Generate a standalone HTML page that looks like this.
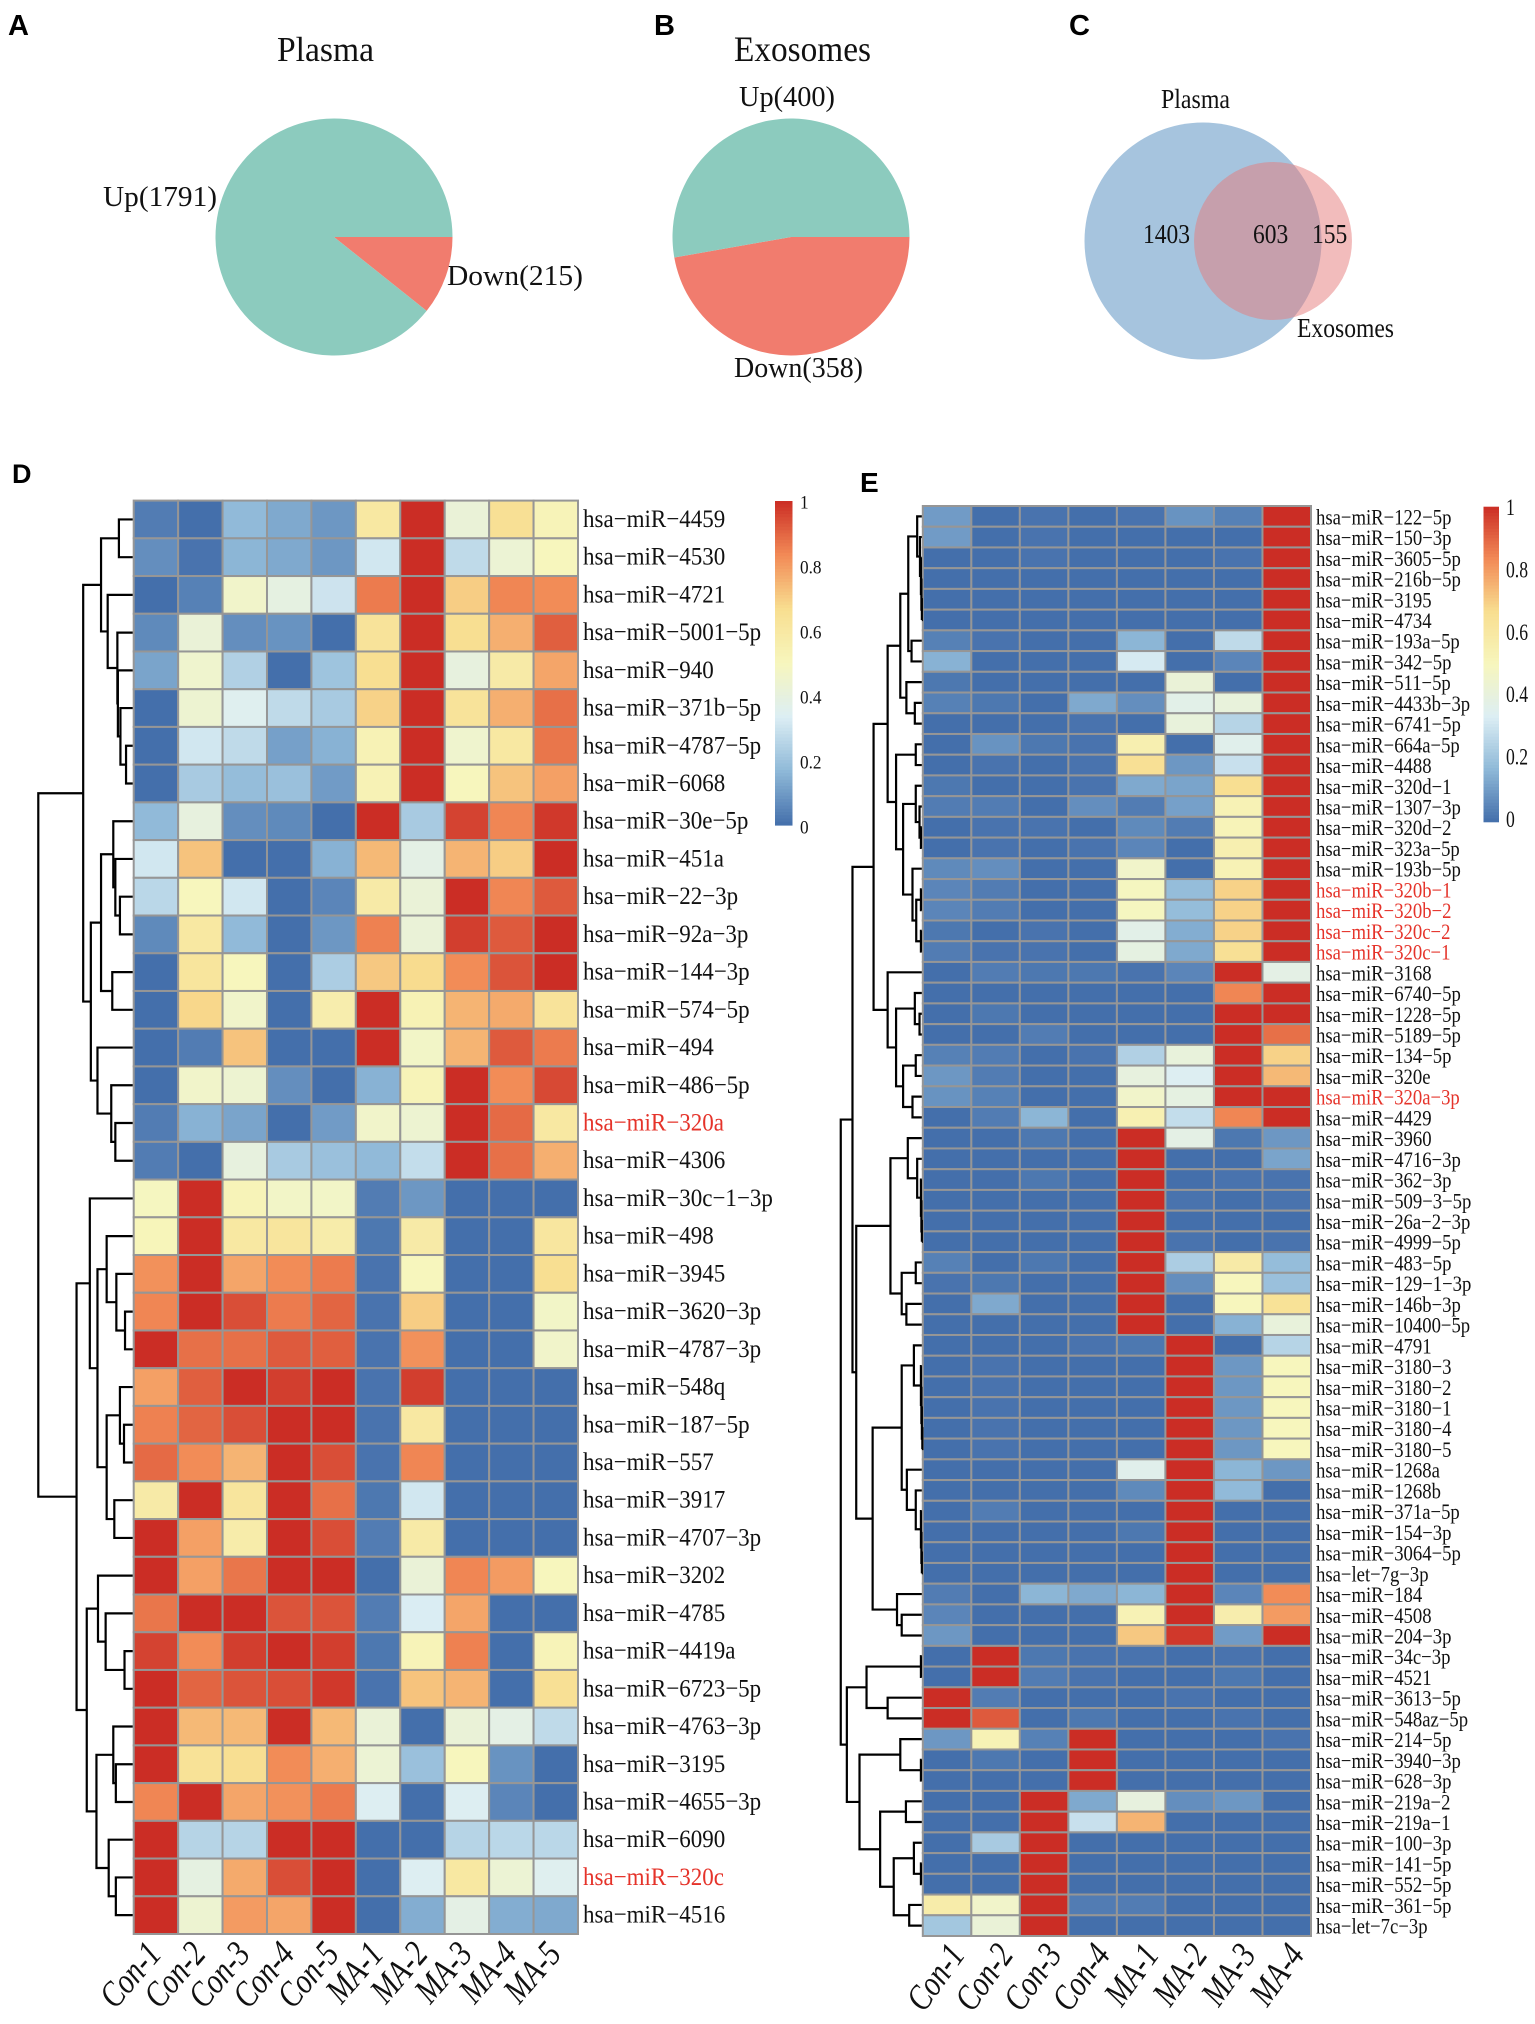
<!DOCTYPE html>
<html lang="en">
<head>
<meta charset="utf-8">
<title>miRNA expression figure</title>
<style>
html,body{margin:0;padding:0;background:#fff;}
svg{display:block;}
text{font-family:"Liberation Serif",serif;fill:#111;}
.letter{font-family:"Liberation Sans",sans-serif;font-weight:bold;fill:#000;}
</style>
</head>
<body>
<svg id="fig" xmlns="http://www.w3.org/2000/svg" width="1535" height="2024" viewBox="0 0 1535 2024">
<rect width="1535" height="2024" fill="#fff"/>
<text class="letter" x="8" y="35" font-size="29">A</text>
<text class="letter" x="654" y="35" font-size="29">B</text>
<text class="letter" x="1069" y="35" font-size="29">C</text>
<text class="letter" x="12" y="483" font-size="27">D</text>
<text class="letter" x="860" y="492" font-size="28">E</text>
<text x="277" y="61" font-size="35" textLength="97" lengthAdjust="spacingAndGlyphs">Plasma</text>
<text x="734" y="61" font-size="36" textLength="137" lengthAdjust="spacingAndGlyphs">Exosomes</text>
<text x="103" y="206" font-size="29" textLength="114" lengthAdjust="spacingAndGlyphs">Up(1791)</text>
<text x="447" y="285" font-size="29" textLength="136" lengthAdjust="spacingAndGlyphs">Down(215)</text>
<text x="739" y="106" font-size="29" textLength="96" lengthAdjust="spacingAndGlyphs">Up(400)</text>
<text x="734" y="377" font-size="29" textLength="129" lengthAdjust="spacingAndGlyphs">Down(358)</text>
<g id="pies"></g>
<g id="venn"></g>
<text x="1161" y="108" font-size="27" textLength="69" lengthAdjust="spacingAndGlyphs">Plasma</text>
<text x="1297" y="337" font-size="27" textLength="97" lengthAdjust="spacingAndGlyphs">Exosomes</text>
<g id="heatD"></g>
<g id="heatE"></g>
</svg>
<script>
// ---- Pie and Venn data ----
const pieAValues = [215, 1791];
const pieBValues = [358, 400];
const vennSets = [2006, 758];
const vennCounts = [1403, 603, 155];

// ---- Heatmap D data ----
const colsD = ['Con-1','Con-2','Con-3','Con-4','Con-5','MA-1','MA-2','MA-3','MA-4','MA-5'];
const rowsD = ['4459','4530','4721','5001-5p','940','371b-5p','4787-5p','6068','30e-5p','451a','22-3p','92a-3p','144-3p','574-5p','494','486-5p','320a','4306','30c-1-3p','498','3945','3620-3p','4787-3p','548q','187-5p','557','3917','4707-3p','3202','4785','4419a','6723-5p','4763-3p','3195','4655-3p','6090','320c','4516'];
const redRowsD = ['320a','320c'];
const valuesD = [
[.03,0,.17,.13,.09,.6,1,.42,.65,.52],
[.07,.01,.16,.13,.09,.31,1,.27,.43,.5],
[0,.04,.46,.39,.3,.86,1,.7,.84,.83],
[.06,.42,.07,.08,0,.63,1,.66,.76,.91],
[.12,.45,.24,0,.2,.66,1,.4,.58,.78],
[0,.44,.35,.27,.22,.69,1,.63,.76,.88],
[0,.31,.27,.11,.15,.53,1,.45,.6,.87],
[0,.22,.18,.19,.1,.53,1,.5,.72,.79],
[.17,.4,.07,.06,0,1,.22,.96,.84,.98],
[.31,.72,0,0,.15,.74,.38,.75,.7,1],
[.26,.5,.31,0,.05,.58,.42,1,.84,.92],
[.06,.6,.17,0,.09,.85,.42,.97,.92,1],
[0,.62,.5,0,.23,.71,.67,.83,.93,1],
[0,.68,.46,0,.56,1,.53,.75,.77,.63],
[0,.03,.72,0,0,1,.47,.75,.92,.86],
[0,.46,.44,.07,0,.15,.52,1,.83,.95],
[.03,.15,.12,0,.1,.46,.44,1,.89,.6],
[.03,0,.4,.22,.19,.17,.28,1,.88,.76],
[.49,1,.52,.47,.47,.03,.09,0,0,0],
[.51,1,.6,.62,.57,.02,.58,0,0,.61],
[.82,1,.78,.83,.86,.01,.5,0,0,.66],
[.84,1,.94,.86,.9,.01,.7,0,0,.47],
[1,.88,.88,.92,.91,.01,.82,0,0,.46],
[.79,.91,1,.97,1,.01,.97,0,0,0],
[.85,.9,.94,1,1,.01,.6,0,0,0],
[.89,.83,.75,1,.94,.01,.84,0,0,0],
[.58,1,.62,1,.88,.02,.31,0,0,0],
[1,.79,.57,1,.94,.03,.58,0,0,0],
[1,.79,.87,1,1,0,.42,.84,.8,.5],
[.87,1,1,.93,.93,.03,.33,.78,0,0],
[.96,.83,.97,1,.97,.02,.52,.85,0,.52],
[1,.9,.93,.94,.98,.01,.72,.75,0,.65],
[1,.74,.74,1,.74,.42,0,.42,.38,.27],
[1,.64,.66,.83,.76,.43,.19,.5,.08,0],
[.84,1,.78,.82,.86,.34,0,.34,.05,0],
[1,.25,.25,1,1,0,0,.25,.26,.26],
[1,.39,.77,.94,1,0,.34,.6,.43,.35],
[1,.44,.8,.78,1,0,.14,.38,.14,.13]
];
// merge heights: [height, childA, childB]; numeric leaves are 1-based row numbers
const treeD = [187,
 [99,
  [64,[29,1,2],[51,3,[32,4,[31,5,[26,6,[15,7,8]]]]]],
  [84,[64,[40,9,[36,10,[27,11,12]]],[42,13,14]],[71,15,[44,16,[36,17,18]]]]
 ],
 [112,
  [86,19,[71,[53,20,[34,21,[17,22,23]]],[53,[27,24,[19,25,26]],[38,27,28]]]],
  [92,[70,29,[55,30,[18,31,32]]],[73,[40,33,[35,34,35]],[49,36,[35,37,38]]]]
 ]];

// ---- Heatmap E data ----
const colsE = ['Con-1','Con-2','Con-3','Con-4','MA-1','MA-2','MA-3','MA-4'];
const rowsE = ['122-5p','150-3p','3605-5p','216b-5p','3195','4734','193a-5p','342-5p','511-5p','4433b-3p','6741-5p','664a-5p','4488','320d-1','1307-3p','320d-2','323a-5p','193b-5p','320b-1','320b-2','320c-2','320c-1','3168','6740-5p','1228-5p','5189-5p','134-5p','320e','320a-3p','4429','3960','4716-3p','362-3p','509-3-5p','26a-2-3p','4999-5p','483-5p','129-1-3p','146b-3p','10400-5p','4791','3180-3','3180-2','3180-1','3180-4','3180-5','1268a','1268b','371a-5p','154-3p','3064-5p','let-7g-3p','184','4508','204-3p','34c-3p','4521','3613-5p','548az-5p','214-5p','3940-3p','628-3p','219a-2','219a-1','100-3p','141-5p','552-5p','361-5p','let-7c-3p'];
const redRowsE = ['320b-1','320b-2','320c-2','320c-1','320a-3p'];
const valuesE = [
[.1,0,.01,0,.01,.08,.04,1],
[.1,0,.01,0,0,0,0,1],
[0,0,.01,0,0,0,.01,1],
[0,0,0,0,0,0,0,1],
[0,0,0,0,0,0,0,1],
[0,0,0,0,0,0,0,1],
[.04,.01,0,0,.16,0,.27,1],
[.15,0,0,0,.32,0,.05,1],
[.02,0,0,0,0,.42,0,1],
[.04,.02,0,.13,.07,.37,.41,1],
[0,0,0,.01,0,.41,.25,1],
[0,.08,.02,.01,.55,0,.36,1],
[0,.01,0,.01,.65,.09,.29,1],
[.02,0,0,.01,.13,.12,.66,1],
[.03,.03,0,.07,.03,.11,.53,1],
[0,.01,.01,0,.06,.03,.52,1],
[0,.01,0,.01,.05,0,.55,1],
[.06,.07,0,0,.46,0,.53,1],
[.05,.03,0,0,.49,.18,.69,1],
[.05,.03,0,0,.49,.18,.69,1],
[.02,0,.01,0,.37,.14,.69,1],
[.03,.01,.01,0,.39,.13,.65,1],
[0,.03,.02,.02,.01,.05,1,.38],
[0,0,0,0,0,0,.84,1],
[0,.02,0,0,0,0,1,1],
[0,0,.03,0,0,0,1,.88],
[.04,.03,0,.01,.24,.41,1,.69],
[.09,.03,0,0,.4,.34,1,.74],
[.08,.04,0,0,.46,.39,1,1],
[0,.03,.16,0,.54,.28,.84,1],
[0,0,.02,0,1,.38,.02,.09],
[0,0,0,0,1,0,0,.12],
[0,0,.02,0,1,0,.01,.01],
[0,0,0,0,1,.01,0,.01],
[0,0,0,0,1,0,0,0],
[0,0,0,0,1,.01,0,.01],
[.04,0,.02,0,1,.23,.58,.18],
[.01,.02,0,0,1,.07,.5,.19],
[0,.13,0,0,1,0,.5,.64],
[0,0,0,0,1,0,.15,.41],
[0,0,0,.01,.02,1,0,.25],
[0,.01,0,0,0,1,.09,.5],
[0,.01,0,0,0,1,.09,.5],
[0,.01,0,0,0,1,.09,.5],
[0,.01,0,0,0,1,.09,.5],
[0,.01,0,0,0,1,.09,.5],
[0,0,0,0,.36,1,.16,.09],
[0,0,0,0,.06,1,.17,0],
[0,.03,0,0,0,1,0,0],
[0,0,0,0,.02,1,0,0],
[0,0,0,0,0,1,0,0],
[0,0,0,0,0,1,0,0],
[.03,0,.16,.13,.16,1,.05,.83],
[.05,0,0,0,.53,1,.56,.8],
[.09,0,0,0,.71,.98,.1,1],
[0,1,.02,.01,.01,0,.01,0],
[0,1,.03,.01,0,0,.02,0],
[1,.03,0,0,0,.01,0,0],
[1,.92,0,.02,0,0,.01,0],
[.09,.53,.04,1,0,0,0,.01],
[0,.02,0,1,0,0,0,0],
[0,0,0,1,0,0,0,0],
[0,0,1,.13,.4,.07,.09,0],
[0,0,1,.29,.75,0,0,0],
[0,.22,1,0,0,0,0,0],
[0,0,1,0,0,0,0,0],
[0,0,1,0,0,0,0,0],
[.57,.46,1,.03,.03,0,0,0],
[.21,.42,1,0,0,0,0,0]
];
const treeE = [175,
 [150,
  [105,
   [75,
    [48,[31,[12,1,[6,2,[4,3,[3,4,[2,5,6]]]]],[24,7,8]],[35,9,[17,10,11]]],
    [57,[15,12,13],[42,[15,14,[7,15,[4,16,17]]],[22,18,[14,[4,19,20],[4,21,22]]]]]
   ],
   [75,23,[57,[17,24,[7,25,26]],[42,[15,27,28],[22,29,30]]]]
  ],
  [142,
   [69,[32,31,[12,32,[4,33,[3,34,[2,35,36]]]]],[45,[15,37,38],[35,39,40]]],
   [107,[45,[19,41,[4,42,[3,43,[2,44,[1,45,46]]]]],[34,47,[15,48,[4,49,[3,50,[2,51,52]]]]]],[55,53,[45,54,55]]]
  ]
 ],
 [162,
  [120,[4,56,57],[75,58,59]],
  [135,[48,60,[4,61,62]],[91,[36,63,64],[62,[19,65,[4,66,67]],[29,68,69]]]]
 ]];

// ---- Shared scale data ----
const colorbarTicks = [0, 0.2, 0.4, 0.6, 0.8, 1];
const colorStops = ['#446fab','#8fb9d8','#dceef4','#f7f6bd','#f8de90','#f28a56','#cb2d25'];

const NS = 'http://www.w3.org/2000/svg';
function mk(tag, attrs, parent) {
  const el = document.createElementNS(NS, tag);
  for (const k in attrs) el.setAttribute(k, attrs[k]);
  parent.appendChild(el);
  return el;
}
function hex(c) { return [1,3,5].map(i => parseInt(c.substr(i,2),16)); }
function colorOf(v) {
  const t = Math.max(0, Math.min(1, v)) * (colorStops.length - 1);
  const i = Math.min(colorStops.length - 2, Math.floor(t));
  const a = hex(colorStops[i]), b = hex(colorStops[i + 1]), f = t - i;
  return 'rgb(' + a.map((x, k) => Math.round(x + (b[k] - x) * f)).join(',') + ')';
}
function minus(s) { return s.replace(/-/g, '\u2212'); }

// ---- Pies ----
function drawPie(parent, values, cx, cy, r, colors) {
  const total = values.reduce((a, b) => a + b, 0);
  let a0 = 0;
  values.forEach((v, i) => {
    const a1 = a0 + v / total * 2 * Math.PI;
    const large = a1 - a0 > Math.PI ? 1 : 0;
    const d = 'M' + cx + ' ' + cy + 'L' + (cx + r * Math.cos(a0)) + ' ' + (cy + r * Math.sin(a0)) +
      'A' + r + ' ' + r + ' 0 ' + large + ' 1 ' + (cx + r * Math.cos(a1)) + ' ' + (cy + r * Math.sin(a1)) + 'Z';
    const slice = mk('path', {d: d, fill: colors[i]}, parent);
    
    
    a0 = a1;
  });
}
const piesG = document.getElementById('pies');
drawPie(piesG, pieAValues, 334, 237, 118.5, ['#f17c6e', '#8ccbbe']);
drawPie(piesG, pieBValues, 791, 237, 118.5, ['#f17c6e', '#8ccbbe']);

// ---- Venn ----
const vennG = document.getElementById('venn');
function vennR(n) { return 118.5 * Math.pow(n / vennSets[0], 0.417); }
const vennPlasma = mk('circle', {cx: 1203, cy: 241, r: vennR(vennSets[0]), fill: '#a6c4de'}, vennG);


const vennExo = mk('circle', {cx: 1273, cy: 241, r: vennR(vennSets[1]), fill: '#e57979', 'fill-opacity': 0.5}, vennG);


const vennXs = [1143, 1253, 1312];
vennCounts.forEach((n, i) => {
  const t = mk('text', {'font-size': 27, transform: 'translate(' + vennXs[i] + ',243) scale(.87,1)'}, vennG);
  t.textContent = String(n);
  
  
});

// ---- Heatmap panel ----
function drawPanel(cfg) {
  const g = document.getElementById(cfg.id);
  const nR = cfg.rows.length, nC = cfg.cols.length;
  const rowH = (cfg.y1 - cfg.y0) / nR, colW = (cfg.x1 - cfg.x0) / nC;
  const xS = i => cfg.x0 + i * colW;
  const yS = i => cfg.y0 + i * rowH;

  cfg.values.forEach((row, r) => {
    row.forEach((v, c) => {
      const cell = mk('rect', {x: xS(c), y: yS(r), width: colW, height: rowH, fill: colorOf(v), stroke: '#969696', 'stroke-width': 2}, g);
      
      
    });
  });

  cfg.rows.forEach((name, r) => {
    const tx = mk('text', {'font-size': cfg.labelSize, transform: 'translate(' + cfg.labelX + ',' + (yS(r) + rowH / 2 + cfg.labelDy) + ') scale(' + cfg.labelSx + ',1)'}, g);
    tx.textContent = minus('hsa-' + (name.startsWith('let') ? '' : 'miR-') + name);
    if (cfg.redRows.indexOf(name) >= 0) tx.style.fill = '#e5332a';
    
    
  });

  cfg.cols.forEach((name, c) => {
    const px = xS(c) + colW / 2 + cfg.colDx;
    const cl = mk('text', {'font-size': cfg.colSize, 'font-style': 'italic', 'text-anchor': 'end', transform: 'translate(' + px + ',' + cfg.colY + ') rotate(' + cfg.colAngle + ') scale(' + cfg.colSx + ',1)'}, g);
    cl.textContent = name;
    
    
  });

  function drawNode(node) {
    if (typeof node === 'number') return {x: cfg.x0 - 1, y: yS(node - 1) + rowH / 2};
    const a = drawNode(node[1]), b = drawNode(node[2]);
    const x = cfg.x0 - node[0] / cfg.treeK;
    const d = 'M' + a.x + ' ' + a.y + 'H' + x + 'V' + b.y + 'H' + b.x;
    const link = mk('path', {d: d, fill: 'none', stroke: '#000', 'stroke-width': 2.2}, g);
    
    
    return {x: x, y: (a.y + b.y) / 2};
  }
  drawNode(cfg.tree);

  const steps = 100;
  for (let i = 0; i < steps; i++) {
    const sw = mk('rect', {x: cfg.barX, y: cfg.barTop + (cfg.barBottom - cfg.barTop) * i / steps, width: cfg.barW, height: (cfg.barBottom - cfg.barTop) / steps + 0.6, fill: colorOf(1 - (i + 0.5) / steps)}, g);
    
    
  }
  colorbarTicks.forEach(v => {
    const y = cfg.tick0 + (cfg.tick1 - cfg.tick0) * v + cfg.tickSize * 0.34;
    const tk = mk('text', {'font-size': cfg.tickSize, transform: 'translate(' + cfg.tickX + ',' + y + ') scale(' + cfg.tickSx + ',1)'}, g);
    tk.textContent = String(v);
    
    
  });
}

drawPanel({id:'heatD', rows:rowsD, cols:colsD, values:valuesD, redRows:redRowsD, tree:treeD,
  x0:133.7, x1:578, y0:500.6, y1:1934, treeK:1.96,
  labelX:583, labelDy:7.5, labelSize:25, labelSx:.92,
  colDx:7, colY:1955, colAngle:-49, colSize:36, colSx:.81,
  barX:775, barW:17.5, barTop:501, barBottom:825, tick0:827, tick1:502, tickX:800, tickSize:18.5, tickSx:.93});
drawPanel({id:'heatE', rows:rowsE, cols:colsE, values:valuesE, redRows:redRowsE, tree:treeE,
  x0:922.8, x1:1311, y0:506, y1:1936, treeK:2.133,
  labelX:1316, labelDy:8, labelSize:22, labelSx:.85,
  colDx:19, colY:1955, colAngle:-54, colSize:36, colSx:.8,
  barX:1483.5, barW:15.5, barTop:506.7, barBottom:821.7, tick0:819, tick1:507, tickX:1506, tickSize:23.5, tickSx:.75});
</script>
</body>
</html>
